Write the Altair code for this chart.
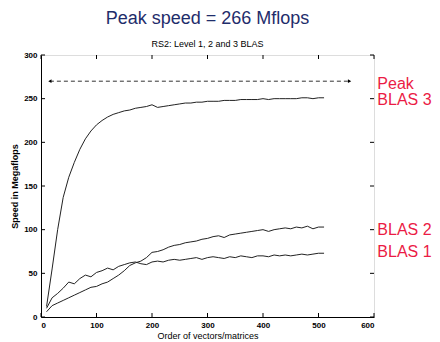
import altair as alt
import pandas as pd

x_vals = list(range(10, 520, 10))
blas1 = [10, 22, 27, 33, 40, 38, 44, 48, 46, 51, 53, 56, 54, 58, 60, 62, 63, 61, 60, 63,
         64, 63, 65, 66, 65, 66, 67, 68, 66, 68, 69, 68, 67, 69, 68, 70, 69, 68, 70, 70,
         69, 71, 70, 71, 70, 71, 72, 71, 72, 73, 73]
blas2 = [6, 13, 16, 19, 22, 25, 28, 31, 34, 35, 38, 40, 44, 48, 53, 59, 62, 64, 68, 74,
         75, 77, 80, 82, 83, 85, 86, 87, 89, 90, 92, 93, 91, 94, 95, 96, 97, 98, 99, 100,
         98, 100, 101, 102, 101, 103, 102, 104, 101, 103, 103]
blas3 = [12, 55, 100, 137, 160, 177, 192, 204, 213, 220, 225, 229, 232, 234, 236, 237, 239, 240, 241, 243,
         240, 241, 242, 243, 244, 245, 245, 246, 246, 247, 247, 247, 248, 248, 248, 249, 249, 249, 249, 250,
         249, 250, 250, 250, 250, 250, 251, 251, 250, 251, 251]

peak_value = 270
arrow_start = 16
arrow_end = 556

label_texts = ["Peak", "BLAS 3", "BLAS 2", "BLAS 1"]
label_y = [267, 248, 100, 74]
label_x = 606

x_ticks = [0, 100, 200, 300, 400, 500, 600]
y_ticks = [0, 50, 100, 150, 200, 250, 300]

rows = []
for name, ys in [("BLAS 1", blas1), ("BLAS 2", blas2), ("BLAS 3", blas3)]:
    for xv, yv in zip(x_vals, ys):
        rows.append({"series": name, "x": xv, "y": yv})
df = pd.DataFrame(rows)

W, H = 333, 262
FONT = "Liberation Sans"

xscale = alt.Scale(domain=[0, 600], nice=False)
yscale = alt.Scale(domain=[0, 300], nice=False)

xaxis = alt.Axis(values=x_ticks, title="Order of vectors/matrices", tickSize=0, labelPadding=4,
                 domainColor="black", labelColor="black", labelFont=FONT, labelFontSize=8,
                 labelFontWeight="bold", titleFont=FONT, titleFontSize=9, titleFontWeight="normal",
                 titleColor="black", grid=False, titlePadding=2)
yaxis = alt.Axis(values=y_ticks, title="Speed in Megaflops", tickSize=0, labelPadding=4,
                 domainColor="black", labelColor="black", labelFont=FONT, labelFontSize=8,
                 labelFontWeight="bold", titleFont=FONT, titleFontSize=9, titleFontWeight="bold",
                 titleColor="black", grid=False, titlePadding=4)

lines = alt.Chart(df).mark_line(color="#222", strokeWidth=1).encode(
    x=alt.X("x:Q", scale=xscale, axis=xaxis),
    y=alt.Y("y:Q", scale=yscale, axis=yaxis),
    detail="series:N",
)

arrow_df = pd.DataFrame({"x": [arrow_start], "x2": [arrow_end], "y": [peak_value]})
arrow_line = alt.Chart(arrow_df).mark_rule(color="#333", strokeDash=[4, 3], strokeWidth=1).encode(
    x="x:Q", x2="x2:Q", y="y:Q")
heads_df = pd.DataFrame({"x": [arrow_start, arrow_end], "y": [peak_value, peak_value],
                         "shape": ["triangle-left", "triangle-right"]})
heads = alt.Chart(heads_df).mark_point(filled=True, color="black", size=14, opacity=1).encode(
    x="x:Q", y="y:Q", shape=alt.Shape("shape:N", scale=None, legend=None))

lab_df = pd.DataFrame({"t": label_texts, "y": label_y, "x": [label_x] * 4})
labels = alt.Chart(lab_df).mark_text(align="left", baseline="middle", color="#EB1B45",
                                     font=FONT, fontSize=16).encode(
    x="x:Q", y="y:Q", text="t:N")

# inward ticks (MATLAB style box)
xt = pd.DataFrame({"v": x_ticks})
yt = pd.DataFrame({"v": y_ticks})
tb = alt.Chart(xt).mark_rule(color="black").encode(x="v:Q", y=alt.value(H), y2=alt.value(H - 4))
tt = alt.Chart(xt).mark_rule(color="black").encode(x="v:Q", y=alt.value(0), y2=alt.value(4))
tl = alt.Chart(yt).mark_rule(color="black").encode(y="v:Q", x=alt.value(0), x2=alt.value(4))
tr = alt.Chart(yt).mark_rule(color="black").encode(y="v:Q", x=alt.value(W), x2=alt.value(W - 4))

chart = alt.layer(lines, arrow_line, heads, tb, tt, tl, tr, labels).properties(
    width=W, height=H,
    title=alt.TitleParams(
        text="Peak speed = 266 Mflops",
        subtitle="RS2: Level 1, 2 and 3 BLAS",
        font=FONT, fontSize=18, fontWeight="normal", color="#1F2D6B",
        subtitleFont=FONT, subtitleFontSize=9, subtitleColor="black",
        subtitlePadding=12, offset=2, anchor="middle",
    ),
    padding={"left": 41, "top": 55, "right": 66, "bottom": 25},
    autosize="none",
).configure_view(stroke="black", strokeWidth=1).configure(background="white")

chart.save("out.html", embed_options={"renderer": "svg", "actions": False})
